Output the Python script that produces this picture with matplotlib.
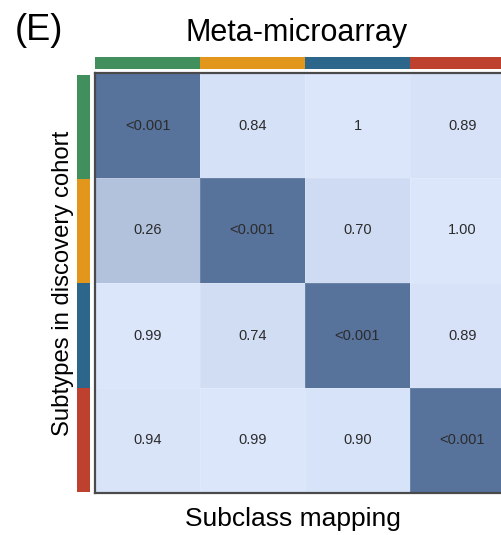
import matplotlib
matplotlib.use("Agg")
import matplotlib.pyplot as plt
import numpy as np
from matplotlib.colors import LinearSegmentedColormap, PowerNorm, ListedColormap

plt.rcParams['font.family'] = ['Liberation Sans', 'DejaVu Sans']

# Data
row_groups = ["S1", "S2", "S3", "S4"]
col_groups = ["S1", "S2", "S3", "S4"]
p_values = np.array([
    [0.0, 0.84, 1.0, 0.89],
    [0.26, 0.0, 0.70, 1.00],
    [0.99, 0.74, 0.0, 0.89],
    [0.94, 0.99, 0.90, 0.0],
])
cell_labels = [
    ["<0.001", "0.84", "1", "0.89"],
    ["0.26", "<0.001", "0.70", "1.00"],
    ["0.99", "0.74", "<0.001", "0.89"],
    ["0.94", "0.99", "0.90", "<0.001"],
]
group_colors = ["#418f5d", "#e2961b", "#2c668a", "#be412f"]

W, H = 501, 535
fig = plt.figure(figsize=(W / 100, H / 100), dpi=100)

def px_axes(x0, y0, x1, y1):
    return fig.add_axes([x0 / W, 1 - y1 / H, (x1 - x0) / W, (y1 - y0) / H])

cmap = LinearSegmentedColormap.from_list("pv", ["#57729b", "#dbe6fb"])
norm = PowerNorm(gamma=0.28, vmin=0, vmax=1)

# Heatmap
ax = px_axes(95, 73, 515, 493)
ax.pcolormesh(p_values, cmap=cmap, norm=norm, edgecolors=(1, 1, 1, 0.12), linewidth=0.6)
ax.set_xlim(0, 4)
ax.set_ylim(4, 0)
ax.set_xticks([])
ax.set_yticks([])
for s in ax.spines.values():
    s.set_color("#4a4a4a")
    s.set_linewidth(1.6)
for i in range(len(row_groups)):
    for j in range(len(col_groups)):
        ax.text(j + 0.5, i + 0.5, cell_labels[i][j], ha="center", va="center",
                fontsize=10.5, color="#2b2b2b")

# Top color bar
axt = px_axes(95, 57, 515, 69)
axt.imshow(np.arange(len(col_groups))[None, :], cmap=ListedColormap(group_colors),
           aspect="auto", extent=(0, 4, 0, 1))
axt.set_axis_off()

# Left color bar
axl = px_axes(77, 75, 90, 492)
axl.imshow(np.arange(len(row_groups))[:, None], cmap=ListedColormap(group_colors),
           aspect="auto", extent=(0, 1, 4, 0))
axl.set_axis_off()

# Texts
fig.text(15 / W, 1 - 31 / H, "(E)", fontsize=26, ha="left", va="center")
fig.text(297 / W, 1 - 33 / H, "Meta-microarray", fontsize=22, ha="center", va="center")
fig.text(293 / W, 1 - 519 / H, "Subclass mapping", fontsize=19, ha="center", va="center")
fig.text(63 / W, 1 - 283 / H, "Subtypes in discovery cohort", fontsize=17.2,
         ha="center", va="center", rotation=90)

fig.savefig("out.png", dpi=100)
